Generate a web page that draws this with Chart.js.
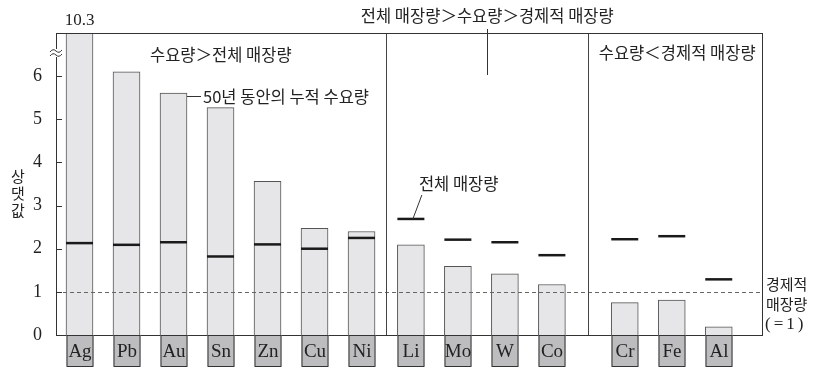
<!DOCTYPE html>
<html>
<head>
<meta charset="utf-8">
<script src="https://cdn.jsdelivr.net/npm/chart.js@4"></script>
<style>
  html, body { margin: 0; padding: 0; background: #fff; }
  #wrap { width: 815px; height: 369px; position: relative; }
</style>
</head>
<body>
<div id="wrap"><canvas id="c"></canvas></div>
<script>
// minerals, left to right
var categories = ['Ag', 'Pb', 'Au', 'Sn', 'Zn', 'Cu', 'Ni', 'Li', 'Mo', 'W', 'Co', 'Cr', 'Fe', 'Al'];
// which panel each mineral sits in
var groups = [0, 0, 0, 0, 0, 0, 0, 1, 1, 1, 1, 2, 2, 2];
// 50-year cumulative demand (relative to economic reserve = 1)
var demand = [10.3, 6.1, 5.61, 5.27, 3.56, 2.47, 2.4, 2.09, 1.59, 1.42, 1.17, 0.75, 0.81, 0.19];
// total reserve
var totalReserve = [2.13, 2.09, 2.15, 1.82, 2.1, 2.0, 2.25, 2.69, 2.21, 2.15, 1.85, 2.22, 2.29, 1.29];
var yTicks = [0, 1, 2, 3, 4, 5, 6];
var economicReserve = 1;
var panelTitles = ['수요량＞전체 매장량', '전체 매장량＞수요량＞경제적 매장량', '수요량＜경제적 매장량'];

var KR = '"Noto Sans CJK KR", "Noto Sans", sans-serif';
var SERIF = '"Liberation Serif", "DejaVu Serif", serif';
var groupGap = [0, 0.05, 0.6];
var yMax = 7;

function xPos(i) { return i + groupGap[groups[i]]; }

var barData = categories.map(function(c, i) { return { x: xPos(i), y: demand[i] }; });
var resData = categories.map(function(c, i) { return { x: xPos(i), y: totalReserve[i] }; });

var decor = {
  id: 'decor',
  afterDatasetsDraw: function(chart) {
    var ctx = chart.ctx, a = chart.chartArea;
    var xs = chart.scales.x, ys = chart.scales.y;
    var half = 13.5;
    ctx.save();

    // economic reserve dashed line
    var y1 = ys.getPixelForValue(economicReserve);
    ctx.strokeStyle = '#666';
    ctx.lineWidth = 1;
    ctx.setLineDash([4, 3]);
    ctx.beginPath();
    ctx.moveTo(a.left, Math.round(y1) + 0.5);
    ctx.lineTo(a.right, Math.round(y1) + 0.5);
    ctx.stroke();
    ctx.setLineDash([]);

    // panel dividers
    var d1 = xs.getPixelForValue((xPos(6) + xPos(7)) / 2);
    var d2 = xs.getPixelForValue((xPos(10) + xPos(11)) / 2);
    ctx.strokeStyle = '#444';
    ctx.beginPath();
    ctx.moveTo(Math.round(d1) + 0.5, a.top);
    ctx.lineTo(Math.round(d1) + 0.5, a.bottom);
    ctx.moveTo(Math.round(d2) + 0.5, a.top);
    ctx.lineTo(Math.round(d2) + 0.5, a.bottom);
    ctx.stroke();

    // frame
    ctx.strokeStyle = '#333';
    ctx.strokeRect(Math.round(a.left) + 0.5, Math.round(a.top) + 0.5,
      Math.round(a.right - a.left), Math.round(a.bottom - a.top));

    // y tick marks inside
    yTicks.forEach(function(t) {
      var py = Math.round(ys.getPixelForValue(t)) + 0.5;
      ctx.beginPath();
      ctx.moveTo(a.left, py);
      ctx.lineTo(a.left + 6, py);
      ctx.stroke();
    });

    // axis break mark
    var by = a.top + 20;
    ctx.fillStyle = '#fff';
    ctx.fillRect(a.left - 5, by - 4, 10, 8);
    ctx.strokeStyle = '#333';
    [-2, 2].forEach(function(off) {
      ctx.beginPath();
      ctx.moveTo(a.left - 6, by + off + 1);
      ctx.quadraticCurveTo(a.left - 3, by + off - 3, a.left, by + off);
      ctx.quadraticCurveTo(a.left + 3, by + off + 3, a.left + 6, by + off - 1);
      ctx.stroke();
    });

    // category boxes under the axis
    ctx.font = '19px ' + SERIF;
    ctx.textAlign = 'center';
    ctx.textBaseline = 'middle';
    categories.forEach(function(c, i) {
      var px = Math.round(xs.getPixelForValue(xPos(i)));
      ctx.fillStyle = '#bdbdbf';
      ctx.fillRect(px - half, a.bottom, half * 2, 31);
      ctx.strokeStyle = '#333';
      ctx.strokeRect(px - half + 0.5, a.bottom + 0.5, half * 2 - 1, 31);
      ctx.fillStyle = '#222';
      ctx.fillText(c, px, a.bottom + 17);
    });

    // clipped Ag value
    ctx.font = '17px ' + SERIF;
    ctx.fillText('10.3', xs.getPixelForValue(xPos(0)), a.top - 12);

    // panel titles
    ctx.font = '16.5px ' + KR;
    ctx.fillStyle = '#222';
    ctx.textAlign = 'left';
    ctx.fillText(panelTitles[0], xs.getPixelForValue(xPos(1)) + half + 10, a.top + 22);
    ctx.textAlign = 'center';
    var mid = (d1 + d2) / 2;
    ctx.fillText(panelTitles[1], mid, 16);
    ctx.strokeStyle = '#333';
    ctx.beginPath();
    ctx.moveTo(Math.round(mid) + 0.5, 29);
    ctx.lineTo(Math.round(mid) + 0.5, 75);
    ctx.stroke();
    ctx.fillText(panelTitles[2], (d2 + a.right) / 2 + 2, a.top + 20);

    // cumulative demand callout (Au bar)
    var auX = xs.getPixelForValue(xPos(2)) + half;
    var auY = ys.getPixelForValue(demand[2]) + 3;
    ctx.beginPath();
    ctx.moveTo(auX, Math.round(auY) + 0.5);
    ctx.lineTo(auX + 14, Math.round(auY) + 0.5);
    ctx.stroke();
    ctx.textAlign = 'left';
    ctx.fillText('50년 동안의 누적 수요량', auX + 16, auY + 1);

    // total reserve callout (Li)
    var liX = xs.getPixelForValue(xPos(7));
    var liY = ys.getPixelForValue(totalReserve[7]);
    ctx.beginPath();
    ctx.moveTo(liX + 2, liY);
    ctx.lineTo(liX + 11, liY - 24);
    ctx.stroke();
    ctx.fillText('전체 매장량', liX + 8, liY - 35);

    // economic reserve label on the right
    ctx.font = '15px ' + KR;
    ctx.fillText('경제적', a.right + 4, y1 - 8);
    ctx.fillText('매장량', a.right + 4, y1 + 12);
    ctx.font = '17px ' + SERIF;
    ctx.letterSpacing = '3px';
    ctx.fillText('(=1)', a.right + 3, y1 + 33);
    ctx.letterSpacing = '0px';

    // y-axis title, stacked
    ctx.font = '15px ' + KR;
    ctx.textAlign = 'center';
    ['상', '댓', '값'].forEach(function(ch, k) {
      ctx.fillText(ch, 18, 176 + k * 17);
    });

    ctx.restore();
  }
};

new Chart(document.getElementById('c'), {
  type: 'bar',
  data: {
    datasets: [{
      type: 'line',
      label: '전체 매장량',
      data: resData,
      showLine: false,
      pointStyle: 'line',
      pointRadius: 13.5,
      pointBorderWidth: 2.5,
      borderColor: '#1a1a1a',
      backgroundColor: '#1a1a1a',
      order: 0
    }, {
      label: '50년 동안의 누적 수요량',
      data: barData,
      backgroundColor: '#e6e6e8',
      borderColor: '#555',
      borderWidth: 1,
      barThickness: 27,
      order: 1
    }]
  },
  options: {
    responsive: true,
    maintainAspectRatio: false,
    animation: false,
    events: [],
    layout: { padding: { left: 0, right: 53, top: 33, bottom: 34 } },
    plugins: { legend: { display: false }, tooltip: { enabled: false } },
    scales: {
      x: {
        type: 'linear',
        display: false,
        min: -0.5,
        max: 14.52,
        offset: false
      },
      y: {
        min: 0,
        max: yMax,
        afterFit: function(scale) { scale.width = 56; },
        grid: { display: false },
        border: { display: false },
        ticks: {
          stepSize: 1,
          padding: 6,
          color: '#222',
          font: { family: SERIF, size: 18 },
          callback: function(v) { return yTicks.indexOf(v) >= 0 ? v : ''; }
        }
      }
    }
  },
  plugins: [decor]
});
</script>
</body>
</html>
